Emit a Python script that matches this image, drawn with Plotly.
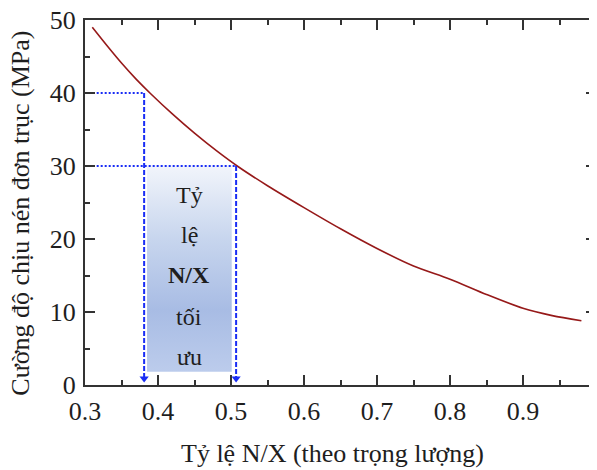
import plotly.graph_objects as go

# Curve data
ratio = [0.31, 0.33, 0.35, 0.37, 0.39, 0.42, 0.45, 0.48, 0.51, 0.55, 0.60,
         0.65, 0.70, 0.75, 0.80, 0.85, 0.90, 0.94, 0.98]
strength = [49.0, 46.5, 44.1, 41.9, 39.9, 37.1, 34.5, 32.1, 29.9, 27.3, 24.3,
            21.4, 18.7, 16.3, 14.5, 12.4, 10.5, 9.5, 8.8]

# Axis ticks
x_major = [0.3, 0.4, 0.5, 0.6, 0.7, 0.8, 0.9, 1.0]
x_major_text = ["0.3", "0.4", "0.5", "0.6", "0.7", "0.8", "0.9", "1"]
x_inner_major = [0.4, 0.5, 0.6, 0.7, 0.8, 0.9]
x_minor = [0.35, 0.45, 0.55, 0.65, 0.75, 0.85, 0.95]
y_major = [0, 10, 20, 30, 40, 50]
y_inner_major = [10, 20, 30, 40]
y_minor = [5, 15, 25, 35, 45]

# Guide lines
opt_x = [0.381, 0.507]
opt_y = [40, 30]
guide_x_start = 0.316
box_x = [0.385, 0.501]
box_y = [1.8, 30.1]

box_words = ["Tỷ", "lệ", "<b>N/X</b>", "tối", "ưu"]
box_word_y = [26.0, 20.5, 15.1, 9.3, 3.8]
box_word_x = 0.443

x_title = "Tỷ lệ N/X (theo trọng lượng)"
y_title = "Cường độ chịu nén đơn trục (MPa)"

FONT = "Liberation Serif"
BLUE = "rgb(25,45,245)"
AX = "#333333"
TXT = "#1e1e1e"
MAJOR_LEN = 10

fig = go.Figure()

# gradient box
fig.add_trace(go.Scatter(
    x=[box_x[0], box_x[1], box_x[1], box_x[0], box_x[0]],
    y=[box_y[0], box_y[0], box_y[1], box_y[1], box_y[0]],
    mode="lines", fill="toself", line=dict(width=0),
    fillgradient=dict(type="vertical", start=box_y[0], stop=box_y[1],
                      colorscale=[[0, "rgb(188,204,236)"], [0.3, "rgb(168,188,228)"],
                                  [0.65, "rgb(200,214,238)"], [1, "rgb(242,245,251)"]]),
    hoverinfo="skip", showlegend=False))

# curve
fig.add_trace(go.Scatter(x=ratio, y=strength, mode="lines",
                         line=dict(color="rgb(150,25,25)", width=1.6, shape="spline", smoothing=0.8),
                         showlegend=False))

# guides
for xv, yv in zip(opt_x, opt_y):
    fig.add_trace(go.Scatter(x=[guide_x_start, xv], y=[yv, yv], mode="lines",
                             line=dict(color=BLUE, width=2, dash="2px,2px"),
                             showlegend=False, hoverinfo="skip"))
    fig.add_trace(go.Scatter(x=[xv, xv], y=[yv, 1.0], mode="lines",
                             line=dict(color=BLUE, width=2, dash="5px,2px"),
                             showlegend=False, hoverinfo="skip"))
    fig.add_trace(go.Scatter(x=[xv], y=[0.9], mode="markers",
                             marker=dict(symbol="triangle-down", size=8, color=BLUE, line=dict(width=0)),
                             showlegend=False, hoverinfo="skip"))

annotations = []
for w, yv in zip(box_words, box_word_y):
    annotations.append(dict(x=box_word_x, y=yv, xref="x", yref="y", text=w, showarrow=False,
                            font=dict(family=FONT, size=24, color=TXT)))
annotations.append(dict(x=0.5, y=-0.189, xref="paper", yref="paper", text=x_title, showarrow=False,
                        xanchor="center", yanchor="middle", xshift=-8,
                        font=dict(family=FONT, size=26, color=TXT)))
annotations.append(dict(x=-0.128, y=0.471, xref="paper", yref="paper", text=y_title, showarrow=False,
                        textangle=-90, xanchor="center", yanchor="middle",
                        font=dict(family=FONT, size=26, color=TXT)))

# major tick marks as axis-referenced shapes (pixel length), bottom/top and left/right
shapes = []
for xv in x_inner_major:
    for anchor, sign in ((0, 1), (1, -1)):
        shapes.append(dict(type="line", xref="x", yref="paper", x0=xv, x1=xv,
                           ysizemode="pixel", yanchor=anchor, y0=0, y1=sign * MAJOR_LEN,
                           line=dict(color=AX, width=2), layer="above"))
for yv in y_inner_major:
    for anchor, sign in ((0, 1), (1, -1)):
        shapes.append(dict(type="line", yref="y", xref="paper", y0=yv, y1=yv,
                           xsizemode="pixel", xanchor=anchor, x0=0, x1=sign * MAJOR_LEN,
                           line=dict(color=AX, width=2), layer="above"))

common = dict(showline=True, linecolor=AX, linewidth=2, mirror="allticks",
              tickcolor=AX, tickwidth=2, ticks="inside", showticklabels=False,
              showgrid=False, zeroline=False, automargin=False)

# overlay axes drawing the minor ticks
fig.add_trace(go.Scatter(x=[0.3], y=[0], xaxis="x2", yaxis="y2", mode="markers",
                         marker=dict(opacity=0), showlegend=False, hoverinfo="skip"))

fig.update_layout(
    width=589, height=462,
    margin=dict(l=77, r=1, t=12, b=85),
    paper_bgcolor="white", plot_bgcolor="white",
    xaxis=dict(range=[0.3, 1.0], tickmode="array", tickvals=x_major, ticktext=x_major_text,
               ticks="outside", ticklen=2, tickcolor="rgba(0,0,0,0)",
               ticklabeloverflow="allow",
               tickfont=dict(family=FONT, size=26, color=TXT),
               showline=True, linecolor=AX, linewidth=2, mirror=True,
               showgrid=False, zeroline=False, automargin=False),
    yaxis=dict(range=[0, 50], tickmode="array", tickvals=y_major,
               ticks="outside", ticklen=2, tickcolor="rgba(0,0,0,0)",
               ticklabeloverflow="allow",
               tickfont=dict(family=FONT, size=26, color=TXT),
               showline=True, linecolor=AX, linewidth=2, mirror=True,
               showgrid=False, zeroline=False, automargin=False),
    xaxis2=dict(range=[0.3, 1.0], overlaying="x", matches="x", tickmode="array",
                tickvals=x_minor, ticklen=5, **common),
    yaxis2=dict(range=[0, 50], overlaying="y", matches="y", tickmode="array",
                tickvals=y_minor, ticklen=5, **common),
    annotations=annotations,
    shapes=shapes,
)

fig.write_html("out.html")
